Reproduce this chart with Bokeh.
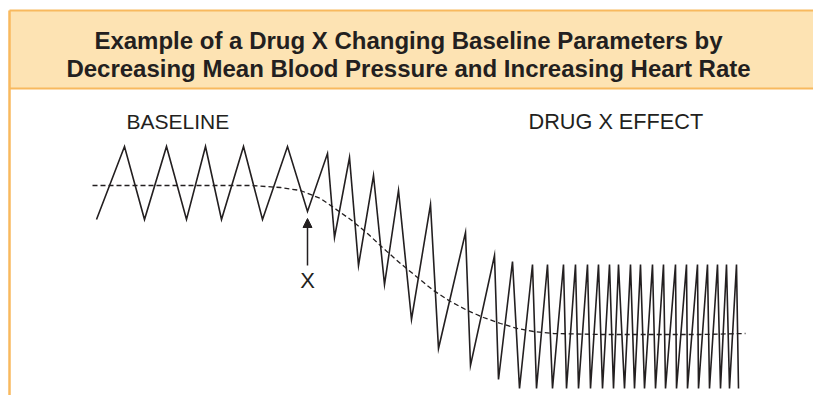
from bokeh.plotting import figure
from bokeh.models import Range1d, Arrow, NormalHead
from bokeh.core.properties import value
from bokeh.embed import file_html
from bokeh.resources import INLINE

# ---- data (x = time, y = pressure, drawn in screen-like units) ----
time = [96, 124, 144, 166, 186, 205, 221, 243, 262, 287, 307, 327, 334, 349, 358, 373, 384,
        398, 411, 430, 438, 465, 470, 494, 498, 512, 519, 532, 536, 547, 552, 563, 566,
        575, 578, 587, 590, 598, 602, 609, 613, 618, 624, 630, 634, 640, 644, 652, 655,
        663, 665, 675, 676, 686, 687, 697, 698, 707, 709, 717, 720, 726, 729, 736, 738]
pressure = [219, 146, 219, 146, 219, 146, 219, 146, 219, 146, 211, 153, 237, 157, 265, 175, 284,
            190, 319, 204, 348, 232, 365, 255, 379, 261, 388, 264, 388, 264, 388, 264, 388,
            264, 388, 264, 388, 264, 388, 264, 388, 264, 388, 264, 388, 264, 388, 264, 388,
            264, 388, 264, 388, 264, 388, 264, 388, 264, 388, 264, 388, 264, 388, 264, 388]

mean_time = [92, 250, 280, 300, 320, 333, 350, 367, 383, 400, 417, 433, 450, 467, 483,
             500, 517, 533, 553, 600, 700, 745]
mean_pressure = [185, 185, 187, 190, 198, 207, 219, 233, 248, 263, 277, 290, 301, 310, 317,
                 323, 328, 331, 333, 334, 334, 333]

drug_time = 307
title_lines = ["Example of a Drug X Changing Baseline Parameters by",
               "Decreasing Mean Blood Pressure and Increasing Heart Rate"]
labels = ["BASELINE", "DRUG X EFFECT"]

INK = "#231f20"
ORANGE = "#f8b95e"
PEACH = "#fde3b3"

p = figure(width=813, height=395, output_backend="svg", toolbar_location=None,
           x_range=Range1d(0, 813), y_range=Range1d(395, 0), min_border=0)
p.axis.visible = False
p.grid.visible = False
p.outline_line_color = None
p.background_fill_color = "white"
p.border_fill_color = "white"

# header panel
p.quad(left=[9], right=[830], top=[10], bottom=[88], fill_color=PEACH, line_color=None)
p.line([9, 830], [10, 10], line_color=ORANGE, line_width=2)
p.line([9, 830], [88, 88], line_color=ORANGE, line_width=2)
p.line([9, 9], [10, 410], line_color=ORANGE, line_width=2.5)

p.text(x=[408, 408], y=[40, 68], text=title_lines, text_font=value("Liberation Sans"),
       text_font_style="bold", text_font_size="24px", text_color=INK,
       text_align="center", text_baseline="middle")

p.text(x=[126], y=[121], text=labels[:1], text_font=value("Liberation Sans"),
       text_font_size="21px", text_color=INK, text_align="left", text_baseline="middle")
p.text(x=[528], y=[121], text=labels[1:], text_font=value("Liberation Sans"),
       text_font_size="21.7px", text_color=INK, text_align="left", text_baseline="middle")

# mean pressure (dashed) and pressure waveform
p.line(mean_time, mean_pressure, line_color=INK, line_width=1.3, line_dash="5 3")
p.line(time, pressure, line_color=INK, line_width=1.6, line_join="miter")

# drug administration arrow
p.add_layout(Arrow(end=NormalHead(size=9, fill_color=INK, line_color=INK),
                   x_start=drug_time, y_start=265, x_end=drug_time, y_end=218,
                   line_color=INK, line_width=1.5))
p.text(x=[drug_time], y=[280], text=["X"], text_font=value("Liberation Sans"),
       text_font_size="22px", text_color=INK, text_align="center", text_baseline="middle")

open("out.html", "w").write(file_html(p, INLINE))
